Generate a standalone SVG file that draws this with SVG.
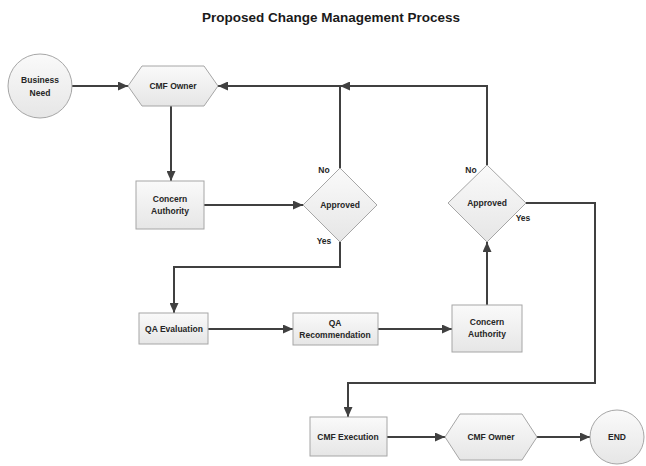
<svg xmlns="http://www.w3.org/2000/svg" width="646" height="466" viewBox="0 0 646 466">
<style>
.n{stroke:#a6a6a6;stroke-width:1;fill:url(#g)}
.t{font-family:"Liberation Sans",Arial,sans-serif;font-weight:bold;font-size:8.5px;fill:#262626;text-anchor:middle}
.c{fill:none;stroke:#404040;stroke-width:2;marker-end:url(#a)}
.title{font-family:"Liberation Sans",Arial,sans-serif;font-weight:bold;font-size:13.5px;fill:#1a1a1a;text-anchor:middle}
</style>
<defs>
<linearGradient id="g" x1="0" y1="0" x2="0" y2="1">
<stop offset="0" stop-color="#fafafa"/>
<stop offset="1" stop-color="#e6e6e6"/>
</linearGradient>
<marker id="a" markerUnits="userSpaceOnUse" markerWidth="11" markerHeight="9" refX="10" refY="4.5" orient="auto">
<path d="M0,0 L10,4.5 L0,9 z" fill="#404040"/>
</marker>
</defs>
<rect width="646" height="466" fill="#fff"/>
<text class="title" x="331" y="22">Proposed Change Management Process</text>
<g id="connectors">
<path class="c" d="M72,86 H128"/>
<path class="c" d="M171,106 V181"/>
<path class="c" d="M204,205 H303"/>
<path class="c" d="M340,168 V86 H218"/>
<path class="c" d="M487,165 V86 H340"/>
<path class="c" d="M340,242 V267 H174 V313"/>
<path class="c" d="M208,329 H293"/>
<path class="c" d="M378,329 H452"/>
<path class="c" d="M487,305 V242"/>
<path class="c" d="M526,203 H595 V383 H348 V417"/>
<path class="c" d="M387,437 H445"/>
<path class="c" d="M537,437 H590"/>
</g>
<g id="business-need"><circle class="n" cx="40" cy="86" r="32"/><text class="t" x="40" y="83">Business</text><text class="t" x="40" y="96">Need</text></g>
<g id="cmf-owner-1"><polygon class="n" points="128,86 142,66 204,66 218,86 204,106 142,106"/><text class="t" x="173" y="89">CMF Owner</text></g>
<g id="concern-authority-1"><rect class="n" x="136" y="181" width="68" height="48"/><text class="t" x="170" y="202">Concern</text><text class="t" x="170" y="214">Authority</text></g>
<g id="approved-1"><polygon class="n" points="340,168 377,205 340,242 303,205"/><text class="t" x="340" y="208">Approved</text><text class="t" x="324" y="173">No</text><text class="t" x="324" y="244">Yes</text></g>
<g id="approved-2"><polygon class="n" points="487,165 526,203 487,242 448,203"/><text class="t" x="487" y="206">Approved</text><text class="t" x="471" y="173">No</text><text class="t" x="523" y="221">Yes</text></g>
<g id="qa-evaluation"><rect class="n" x="139" y="313" width="69" height="31"/><text class="t" x="174" y="332">QA Evaluation</text></g>
<g id="qa-recommendation"><rect class="n" x="293" y="313" width="85" height="32"/><text class="t" x="335" y="326">QA</text><text class="t" x="335" y="338">Recommendation</text></g>
<g id="concern-authority-2"><rect class="n" x="452" y="305" width="70" height="47"/><text class="t" x="487" y="325">Concern</text><text class="t" x="487" y="337">Authority</text></g>
<g id="cmf-execution"><rect class="n" x="310" y="417" width="77" height="39"/><text class="t" x="348" y="440">CMF Execution</text></g>
<g id="cmf-owner-2"><polygon class="n" points="445,437 460,414 522,414 537,437 522,460 460,460"/><text class="t" x="491" y="440">CMF Owner</text></g>
<g id="end"><circle class="n" cx="617" cy="437" r="27"/><text class="t" x="617" y="440">END</text></g>
</svg>
